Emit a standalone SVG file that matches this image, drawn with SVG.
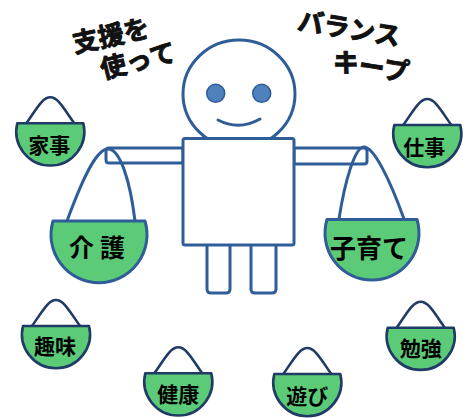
<svg xmlns="http://www.w3.org/2000/svg" width="468" height="418" viewBox="0 0 468 418">
  <style>
    .line { fill: none; stroke: #2F5D98; stroke-width: 3; stroke-linecap: round; stroke-linejoin: round; }
    .part { fill: #FFFFFF; stroke: #2F5D98; stroke-width: 3; stroke-linejoin: round; }
    .eye { fill: #4F81BD; stroke: #2F5D98; stroke-width: 1.5; }
    .bigPan { fill: #5BCB78; stroke: #2F5D98; stroke-width: 3; stroke-linejoin: round; }
    .smallPan { fill: #5BCB78; stroke: #1F3B66; stroke-width: 2.6; stroke-linejoin: round; }
    .handle { fill: none; stroke: #1F3B66; stroke-width: 2.6; stroke-linecap: round; stroke-linejoin: round; }
    .label { font-family: "Noto Sans CJK JP", "Noto Sans", sans-serif; font-weight: bold; fill: #000000; text-anchor: middle; }
    .title { font-family: "Noto Sans CJK JP", "Noto Sans", sans-serif; font-weight: bold; fill: #111111; stroke: #111111; stroke-width: 0.9; stroke-linejoin: round; text-anchor: middle; font-size: 26px; }
  </style>
  <defs>
    <!-- small hanging basket, origin at the middle of its rim -->
    <g id="basket">
      <path class="handle" d="M -24 0 C -14 -14, -8 -26, 0 -26 C 8 -26, 14 -14, 24 0"/>
      <path class="smallPan" d="M -33 0 A 34 34 0 1 0 33 0 Z"/>
    </g>
  </defs>

  <!-- slogans -->
  <g id="title-left">
    <text class="title" x="111" y="45" transform="rotate(-12 111 36)">支援を</text>
    <text class="title" x="138" y="70" transform="rotate(-14 138 61)">使って</text>
  </g>
  <g id="title-right">
    <text class="title" x="349" y="38" transform="rotate(9 349 29)">バランス</text>
    <text class="title" x="371" y="76" transform="rotate(9 371 67)">キープ</text>
  </g>

  <!-- the balancing figure -->
  <g id="figure">
    <ellipse class="part" cx="239" cy="94" rx="56" ry="54"/>
    <circle class="eye" cx="215.7" cy="93.3" r="9"/>
    <circle class="eye" cx="261.7" cy="93.3" r="9"/>
    <path class="line" d="M 218 120 Q 239 131 260 119"/>
    <path class="part" d="M 183 148 L 109 148 Q 106 148 106 151 L 106 160 Q 106 163 109 163 L 183 163 Z"/>
    <path class="part" d="M 294 148 L 364 148 Q 367 148 367 151 L 367 161 Q 367 164 364 164 L 294 164 Z"/>
    <path class="part" d="M 207 244 L 207 289 Q 207 293 211 293 L 226 293 Q 230 293 230 289 L 230 244"/>
    <path class="part" d="M 251 244 L 251 289 Q 251 293 255 293 L 272 293 Q 276 293 276 289 L 276 244"/>
    <rect class="part" x="183" y="138.5" width="111" height="106.5" rx="2"/>
  </g>

  <!-- ropes from the hands to the scale pans -->
  <g id="connectors">
    <path class="line" d="M 67 221 C 82 180, 96 149, 108 149 C 120 149, 130 180, 135 221"/>
    <path class="line" d="M 339 219 C 345 180, 355 147, 364 147 C 374 147, 390 180, 404 219"/>
  </g>

  <!-- scale pans -->
  <g id="pan-kaigo">
    <path class="bigPan" d="M 53 221 A 48 48 0 1 0 145 221 Z"/>
    <text class="label" x="100" y="257" font-size="25" letter-spacing="6">介護</text>
  </g>
  <g id="pan-kosodate">
    <path class="bigPan" d="M 327 219.5 A 47 47 0 1 0 417 219.5 Z"/>
    <text class="label" x="369" y="258" font-size="26">子育て</text>
  </g>

  <!-- surrounding small baskets -->
  <g id="basket-kaji" transform="translate(50.3 123.3)">
    <use href="#basket"/>
    <text class="label" x="-1" y="30" font-size="21">家事</text>
  </g>
  <g id="basket-shigoto" transform="translate(427.3 125)">
    <use href="#basket"/>
    <text class="label" x="-3" y="30" font-size="21">仕事</text>
  </g>
  <g id="basket-shumi" transform="translate(56 326)">
    <use href="#basket"/>
    <text class="label" x="-1" y="28" font-size="21">趣味</text>
  </g>
  <g id="basket-kenko" transform="translate(178.3 373.3)">
    <use href="#basket"/>
    <text class="label" x="0" y="29" font-size="21">健康</text>
  </g>
  <g id="basket-benkyo" transform="translate(420.7 327.7)">
    <use href="#basket"/>
    <text class="label" x="0" y="28" font-size="21">勉強</text>
  </g>
  <g id="basket-asobi" transform="translate(307.3 374)">
    <use href="#basket"/>
    <text class="label" x="0" y="30" font-size="21">遊び</text>
  </g>
</svg>
